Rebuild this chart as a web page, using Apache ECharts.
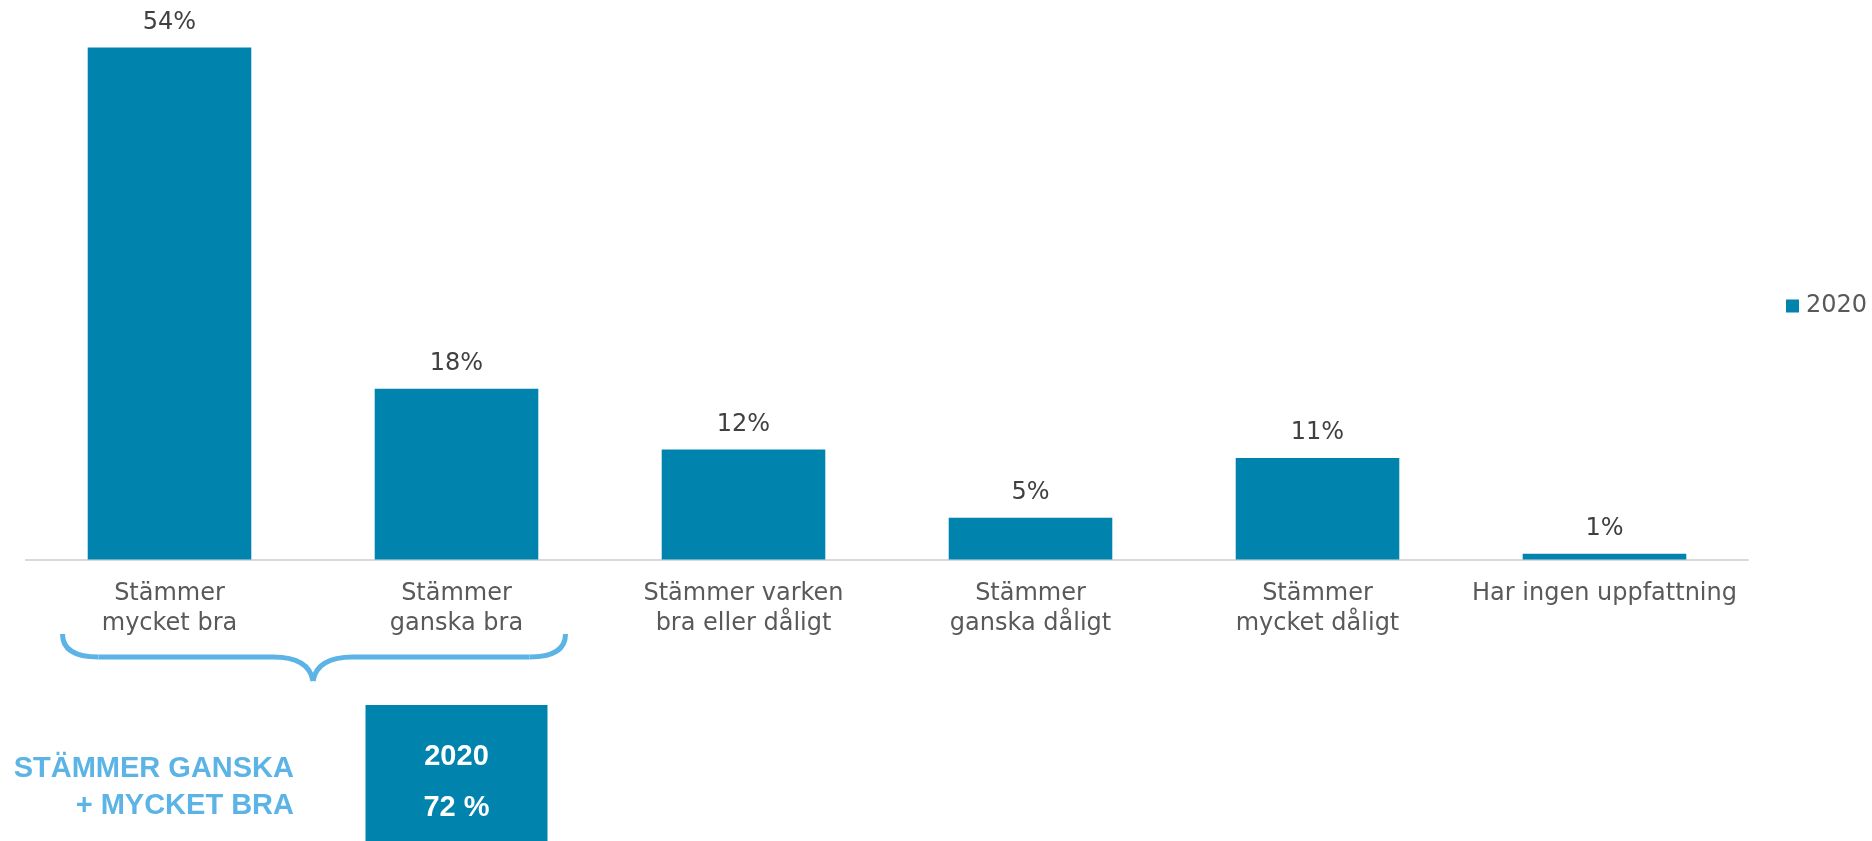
<!DOCTYPE html>
<html>
<head>
<meta charset="utf-8">
<script src="https://cdn.jsdelivr.net/npm/echarts@6/dist/echarts.min.js"></script>
<style>
html,body{margin:0;padding:0;background:#fff;}
#chart{width:1872px;height:841px;}
</style>
</head>
<body>
<div id="chart"></div>
<script>
const categories = ["Stämmer\nmycket bra", "Stämmer\nganska bra", "Stämmer varken\nbra eller dåligt", "Stämmer\nganska dåligt", "Stämmer\nmycket dåligt", "Har ingen uppfattning"];
const values2020 = [54, 18, 11.6, 4.4, 10.7, 0.6];
const valueLabels = ["54%", "18%", "12%", "5%", "11%", "1%"];
const seriesName = "2020";
const summaryTitle = ["STÄMMER GANSKA", "+ MYCKET BRA"];
const summaryYear = "2020";
const summaryValue = "72 %";

const BAR = "#0083AD";
const LIGHT = "#5BB4E5";
const chart = echarts.init(document.getElementById("chart"), null, {renderer: "canvas"});

const option = {
  animation: false,
  backgroundColor: "#fff",
  grid: {left: 26, right: 124, top: 38, bottom: 281.5, containLabel: false},
  legend: {
    data: [seriesName], left: 1786, top: 294, padding: 0, itemWidth: 13, itemHeight: 13, itemGap: 10,
    icon: "rect",
    textStyle: {fontFamily: "DejaVu Sans", fontSize: 24, color: "#595959", padding: [0,0,0,2]}
  },
  xAxis: {
    type: "category", data: categories,
    axisLine: {show: true, lineStyle: {color: "#d9d9d9", width: 2}},
    axisTick: {show: false},
    axisLabel: {interval: 0, margin: 20, fontFamily: "DejaVu Sans", fontSize: 24, lineHeight: 29.5, color: "#595959"}
  },
  yAxis: {type: "value", min: 0, max: 55, show: false, splitLine: {show: false}},
  series: [{
    name: seriesName, type: "bar", data: values2020, barCategoryGap: "43%",
    itemStyle: {color: BAR},
    label: {
      show: true, position: "top", distance: 13,
      fontFamily: "DejaVu Sans", fontSize: 24, color: "#404040",
      formatter: p => valueLabels[p.dataIndex]
    }
  }]
};
chart.setOption(option);

const c0 = chart.convertToPixel({xAxisIndex: 0}, categories[0]);
const c1 = chart.convertToPixel({xAxisIndex: 0}, categories[1]);
const mid = (c0 + c1) / 2;
const L = c0 - 107, R = c1 + 109;
const yTop = 634, yH = 657, yTip = 681;
const braceStyle = {stroke: LIGHT, lineWidth: 5, fill: null};
function curve(x1, y1, cx, cy, x2, y2) {
  return {type: "bezierCurve", shape: {x1: x1, y1: y1, cpx1: cx, cpy1: cy, x2: x2, y2: y2}, style: braceStyle};
}
function seg(x1, y1, x2, y2) {
  return {type: "line", shape: {x1: x1, y1: y1, x2: x2, y2: y2}, style: braceStyle};
}

chart.setOption({
  graphic: [
    curve(L, yTop, L, yH, L + 36, yH),
    seg(L + 36, yH, mid - 40, yH),
    curve(mid - 40, yH, mid - 4, yH, mid, yTip),
    curve(mid, yTip, mid + 4, yH, mid + 40, yH),
    seg(mid + 40, yH, R - 36, yH),
    curve(R - 36, yH, R, yH, R, yTop),
    {type: "rect", shape: {x: c1 - 91, y: 705, width: 182, height: 140}, style: {fill: BAR}},
    {type: "text", x: c1, y: 757, style: {text: summaryYear, fill: "#fff", font: "bold 29px 'Liberation Sans'", textAlign: "center", textVerticalAlign: "middle"}},
    {type: "text", x: c1, y: 808, style: {text: summaryValue, fill: "#fff", font: "bold 29px 'Liberation Sans'", textAlign: "center", textVerticalAlign: "middle"}},
    {type: "text", x: 294, y: 769, style: {text: summaryTitle[0], fill: LIGHT, font: "bold 29px 'Liberation Sans'", textAlign: "right", textVerticalAlign: "middle"}},
    {type: "text", x: 294, y: 806, style: {text: summaryTitle[1], fill: LIGHT, font: "bold 29px 'Liberation Sans'", textAlign: "right", textVerticalAlign: "middle"}}
  ]
});
</script>
</body>
</html>
